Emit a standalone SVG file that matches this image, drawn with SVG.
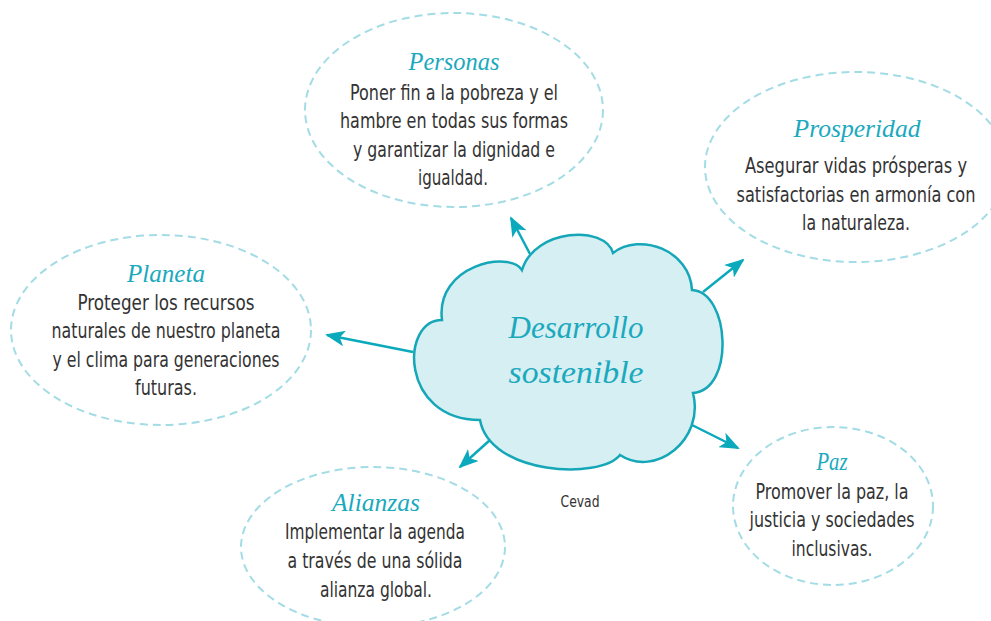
<svg xmlns="http://www.w3.org/2000/svg" width="991" height="621" viewBox="0 0 991 621">
<style>
.bub{fill:#ffffff;stroke:#a3dce5;stroke-width:2;stroke-dasharray:8 5}
.ttl{font-family:"Liberation Serif","DejaVu Serif",serif;font-style:italic;font-size:25px;fill:#1ba9be;text-anchor:middle}
.txt{font-family:"DejaVu Sans Condensed","Liberation Sans Narrow","Liberation Sans",sans-serif;font-size:22px;fill:#333333;text-anchor:middle}
.arr{stroke:#0aa9bb;stroke-width:2.5;fill:none;marker-end:url(#ah)}
.ctext{font-family:"Liberation Serif","DejaVu Serif",serif;font-style:italic;font-size:32px;fill:#1ba9be;text-anchor:middle}
</style>
<defs>
<marker id="ah" markerUnits="userSpaceOnUse" markerWidth="20" markerHeight="16" viewBox="0 0 20 16" refX="18" refY="8" orient="auto">
<path d="M0,0 L20,8 L0,16 L5,8 Z" fill="#0aa9bb"/>
</marker>
</defs>
<rect width="991" height="621" fill="#ffffff"/>
<g id="connectors">
<line class="arr" x1="530" y1="254" x2="511" y2="218"/>
<line class="arr" x1="703" y1="292" x2="743" y2="260"/>
<line class="arr" x1="413" y1="352" x2="327" y2="335"/>
<line class="arr" x1="490" y1="440" x2="460" y2="467"/>
<line class="arr" x1="688" y1="423" x2="738" y2="448"/>
</g>
<g id="personas">
<ellipse class="bub" cx="454" cy="110" rx="149" ry="97"/>
<text class="ttl" x="454" y="70" textLength="91" lengthAdjust="spacingAndGlyphs">Personas</text>
<text class="txt" x="454" y="100" textLength="208" lengthAdjust="spacingAndGlyphs">Poner fin a la pobreza y el</text>
<text class="txt" x="454" y="128" textLength="228" lengthAdjust="spacingAndGlyphs">hambre en todas sus formas</text>
<text class="txt" x="454" y="157" textLength="202" lengthAdjust="spacingAndGlyphs">y garantizar la dignidad e</text>
<text class="txt" x="453" y="185" textLength="70" lengthAdjust="spacingAndGlyphs">igualdad.</text>
</g>
<g id="prosperidad">
<ellipse class="bub" cx="856" cy="167" rx="151" ry="95"/>
<text class="ttl" x="857" y="137" textLength="127" lengthAdjust="spacingAndGlyphs">Prosperidad</text>
<text class="txt" x="856" y="173" textLength="222" lengthAdjust="spacingAndGlyphs">Asegurar vidas prósperas y</text>
<text class="txt" x="856" y="202" textLength="239" lengthAdjust="spacingAndGlyphs">satisfactorias en armonía con</text>
<text class="txt" x="856" y="230" textLength="108" lengthAdjust="spacingAndGlyphs">la naturaleza.</text>
</g>
<g id="planeta">
<ellipse class="bub" cx="161" cy="330" rx="150" ry="95"/>
<text class="ttl" x="166" y="282" textLength="78" lengthAdjust="spacingAndGlyphs">Planeta</text>
<text class="txt" x="166" y="310" textLength="177" lengthAdjust="spacingAndGlyphs">Proteger los recursos</text>
<text class="txt" x="166" y="338" textLength="229" lengthAdjust="spacingAndGlyphs">naturales de nuestro planeta</text>
<text class="txt" x="166" y="367" textLength="227" lengthAdjust="spacingAndGlyphs">y el clima para generaciones</text>
<text class="txt" x="166" y="395" textLength="62" lengthAdjust="spacingAndGlyphs">futuras.</text>
</g>
<g id="alianzas">
<ellipse class="bub" cx="373" cy="547" rx="132" ry="80"/>
<text class="ttl" x="376" y="511" textLength="88" lengthAdjust="spacingAndGlyphs">Alianzas</text>
<text class="txt" x="375" y="539" textLength="180" lengthAdjust="spacingAndGlyphs">Implementar la agenda</text>
<text class="txt" x="375" y="568" textLength="175" lengthAdjust="spacingAndGlyphs">a través de una sólida</text>
<text class="txt" x="376" y="597" textLength="112" lengthAdjust="spacingAndGlyphs">alianza global.</text>
</g>
<g id="paz">
<ellipse class="bub" cx="833" cy="506" rx="100" ry="79"/>
<text class="ttl" x="832" y="470" textLength="31" lengthAdjust="spacingAndGlyphs">Paz</text>
<text class="txt" x="832" y="499" textLength="153" lengthAdjust="spacingAndGlyphs">Promover la paz, la</text>
<text class="txt" x="832" y="527" textLength="165" lengthAdjust="spacingAndGlyphs">justicia y sociedades</text>
<text class="txt" x="832" y="556" textLength="81" lengthAdjust="spacingAndGlyphs">inclusivas.</text>
</g>
<g id="desarrollo">
<path d="M522,270 C535,228 605,225 613,253 C640,232 690,250 692,290 C730,292 735,390 693,393 C705,440 655,478 620,455 C600,480 490,475 480,420 C400,420 400,320 442,320 C435,265 510,250 522,270 Z" fill="#d5eff3" stroke="#15a7b8" stroke-width="2.5"/>
<text class="ctext" x="576" y="338" textLength="135" lengthAdjust="spacingAndGlyphs">Desarrollo</text>
<text class="ctext" x="576" y="383" textLength="135" lengthAdjust="spacingAndGlyphs">sostenible</text>
</g>
<g id="cevad">
<text class="txt" x="580" y="507" style="font-size:15px" textLength="39" lengthAdjust="spacingAndGlyphs">Cevad</text>
</g>
</svg>
